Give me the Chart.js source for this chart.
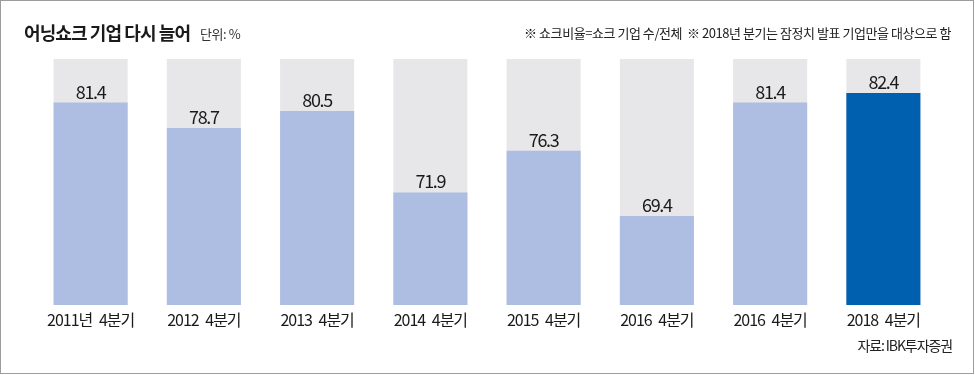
<!DOCTYPE html>
<html><head><meta charset="utf-8">
<script src="https://cdn.jsdelivr.net/npm/chart.js@4.4.1/dist/chart.umd.min.js"></script>
<style>
html,body{margin:0;padding:0;background:#fff;}
#wrap{position:relative;width:975px;height:375px;overflow:hidden;font-family:'Noto Sans CJK KR','Noto Sans',sans-serif;}
#frame{position:absolute;left:0;top:0;width:972px;height:372px;border:1px solid #9c9c9c;box-sizing:content-box;pointer-events:none;}
canvas{position:absolute;left:0;top:0;}
.t{position:absolute;white-space:nowrap;line-height:1;}
#title{left:24px;top:23px;font-size:18px;font-weight:700;color:#1a1a1a;letter-spacing:-0.9px;}
#unit{left:200px;top:27px;font-size:13px;color:#333;letter-spacing:-0.4px;}
#note{right:24px;top:26px;font-size:13px;color:#222;letter-spacing:-0.45px;}
#src{right:23px;top:338px;font-size:14px;color:#222;letter-spacing:-1.1px;}
</style></head>
<body>
<div id="wrap">
<canvas id="c" width="975" height="375"></canvas>
<div class="t" id="title">어닝쇼크 기업 다시 늘어</div>
<div class="t" id="unit">단위: %</div>
<div class="t" id="note">※ 쇼크비율=쇼크 기업 수/전체 &nbsp;※ 2018년 분기는 잠정치 발표 기업만을 대상으로 함</div>
<div class="t" id="src">자료: IBK투자증권</div>
<div id="frame"></div>
</div>
<script>
const categories = ['2011년 4분기','2012 4분기','2013 4분기','2014 4분기','2015 4분기','2016 4분기','2016 4분기','2018 4분기'];
const shockRatio = [81.4, 78.7, 80.5, 71.9, 76.3, 69.4, 81.4, 82.4];
const totalShare = [100, 100, 100, 100, 100, 100, 100, 100];
const valueLabels = ['81.4','78.7','80.5','71.9','76.3','69.4','81.4','82.4'];

const barColors = shockRatio.map((v, i) => i === shockRatio.length - 1 ? '#0060b0' : '#aebde2');

const valueLabelPlugin = {
  id: 'valueLabels',
  afterDatasetsDraw(chart) {
    const ctx = chart.ctx;
    const meta = chart.getDatasetMeta(0);
    ctx.save();
    ctx.letterSpacing = '-1.3px';
    ctx.font = "18px 'Noto Sans CJK KR',sans-serif";
    ctx.fillStyle = '#1a1a1a';
    ctx.textAlign = 'center';
    ctx.textBaseline = 'alphabetic';
    meta.data.forEach((bar, i) => {
      ctx.fillText(valueLabels[i], bar.x, bar.y - 4);
    });
    ctx.restore();
  }
};

const spacingPlugin = {
  id: 'spacing',
  beforeDraw(chart) { chart.ctx.letterSpacing = '-1px'; chart.ctx.wordSpacing = '4px'; }
};

new Chart(document.getElementById('c'), {
  type: 'bar',
  data: {
    labels: categories,
    datasets: [
      { data: shockRatio, backgroundColor: barColors, grouped: false, order: 0,
        barPercentage: 0.654, categoryPercentage: 1 },
      { data: totalShare, backgroundColor: '#e7e7e9', grouped: false, order: 1,
        barPercentage: 0.654, categoryPercentage: 1 }
    ]
  },
  options: {
    responsive: false,
    animation: false,
    events: [],
    layout: { padding: { left: 34, right: 35, top: 59, bottom: 0 } },
    plugins: { legend: { display: false }, tooltip: { enabled: false }, title: { display: false } },
    scales: {
      y: { display: false, min: 60, max: 86 },
      x: {
        grid: { display: false, drawTicks: false },
        border: { display: false },
        ticks: { color: '#1a1a1a', padding: 5, maxRotation: 0, autoSkip: false,
          font: { family: "'Noto Sans CJK KR',sans-serif", size: 16 } },
        afterFit(scale) { scale.height = 70; }
      }
    }
  },
  plugins: [spacingPlugin, valueLabelPlugin]
});
</script>
</body></html>
